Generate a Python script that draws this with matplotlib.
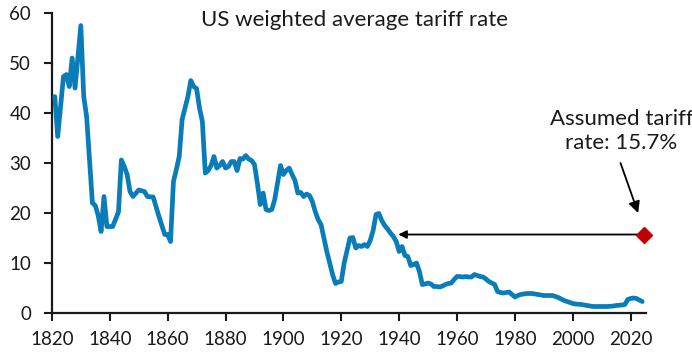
import matplotlib
matplotlib.use("Agg")
import matplotlib.pyplot as plt

plt.rcParams['font.family'] = ['Lato', 'DejaVu Sans']

years = [1821, 1822, 1824, 1825, 1826, 1827, 1828, 1830, 1831, 1832, 1834, 1835, 1836,
         1837, 1838, 1839, 1841, 1843, 1844, 1845, 1846, 1847, 1848, 1850, 1852, 1853,
         1855, 1857, 1859, 1860, 1861, 1862, 1863, 1864, 1865, 1867, 1868, 1869, 1870,
         1871, 1872, 1873, 1874, 1875, 1876, 1877, 1878, 1879, 1880, 1881, 1882, 1883,
         1884, 1885, 1886, 1887, 1888, 1889, 1890, 1891, 1892, 1893, 1894, 1895, 1896,
         1897, 1899, 1900, 1901, 1902, 1903, 1904, 1905, 1906, 1907, 1908, 1909, 1910,
         1911, 1912, 1913, 1914, 1915, 1916, 1917, 1918, 1919, 1920, 1921, 1922, 1923,
         1924, 1925, 1926, 1927, 1928, 1929, 1930, 1931, 1932, 1933, 1934, 1935, 1936,
         1937, 1938, 1939, 1940, 1941, 1942, 1943, 1944, 1945, 1946, 1947, 1948, 1949,
         1950, 1951, 1952, 1953, 1954, 1955, 1956, 1957, 1958, 1959, 1960, 1961, 1962,
         1963, 1964, 1965, 1966, 1967, 1968, 1969, 1970, 1971, 1972, 1973, 1974, 1975,
         1976, 1977, 1978, 1979, 1980, 1981, 1982, 1983, 1984, 1985, 1986, 1987, 1988,
         1989, 1990, 1991, 1992, 1993, 1994, 1995, 1996, 1997, 1998, 1999, 2000, 2001,
         2002, 2003, 2004, 2005, 2006, 2007, 2008, 2009, 2010, 2011, 2012, 2013, 2014,
         2015, 2016, 2017, 2018, 2019, 2020, 2021, 2022, 2023, 2024]
rates = [43.3, 35.3, 47.3, 47.7, 45.3, 51.0, 45.0, 57.5, 43.3, 39.3, 22.0, 21.5, 19.5,
         16.3, 23.3, 17.3, 17.3, 20.2, 30.6, 29.3, 27.7, 24.3, 23.3, 24.6, 24.3, 23.3,
         23.2, 19.3, 15.7, 15.7, 14.3, 26.3, 28.7, 31.3, 38.7, 43.3, 46.5, 45.3, 44.9,
         41.0, 38.3, 28.0, 28.5, 29.5, 31.3, 29.0, 29.5, 30.3, 29.0, 29.3, 30.3, 30.3,
         28.5, 30.9, 30.8, 31.5, 30.8, 30.5, 29.7, 26.0, 21.7, 24.0, 20.7, 20.5, 20.7,
         22.7, 29.5, 27.7, 28.5, 29.0, 27.7, 26.5, 24.0, 24.1, 23.3, 23.8, 23.5, 22.3,
         20.3, 18.7, 17.7, 15.0, 12.3, 10.0, 7.7, 5.9, 6.2, 6.3, 10.0, 12.5, 15.0,
         15.1, 13.0, 13.5, 13.3, 13.7, 13.3, 14.5, 16.5, 19.7, 19.9, 18.5, 17.5, 16.8,
         16.0, 15.3, 14.3, 12.3, 13.3, 11.5, 11.3, 9.5, 9.7, 10.0, 8.3, 5.7, 5.8,
         6.0, 5.8, 5.3, 5.3, 5.2, 5.4, 5.7, 5.9, 6.0, 6.7, 7.3, 7.3, 7.2,
         7.3, 7.2, 7.2, 7.7, 7.5, 7.3, 7.2, 6.8, 6.3, 6.0, 5.7, 4.3, 4.1,
         4.0, 4.1, 4.2, 3.7, 3.2, 3.5, 3.7, 3.8, 3.9, 3.9, 3.9, 3.8, 3.7,
         3.6, 3.5, 3.5, 3.5, 3.5, 3.3, 3.1, 2.8, 2.5, 2.3, 2.1, 1.9, 1.8,
         1.75, 1.7, 1.6, 1.5, 1.4, 1.3, 1.3, 1.3, 1.3, 1.3, 1.3, 1.35, 1.4,
         1.5, 1.55, 1.6, 1.7, 2.7, 2.9, 3.0, 2.9, 2.6, 2.3]

assumed_year = 2024.5
assumed_rate = 15.7
arrow_target_year = 1939.7
xticks = list(range(1820, 2021, 20))
yticks = list(range(0, 61, 10))
title = "US weighted average tariff rate"
note = "Assumed tariff\nrate: 15.7%"

fig = plt.figure(figsize=(6.92, 3.53), dpi=100)
ax = fig.add_axes([0.075, 0.1133, 0.8585, 0.8497])

ax.plot(years, rates, color='#0A7DB8', lw=3.4, solid_joinstyle='round',
        solid_capstyle='round', zorder=3)
ax.plot([assumed_year], [assumed_rate], marker='D', color='#C00000', markersize=8,
        linestyle='none', clip_on=False, zorder=5)

ax.annotate('', xy=(arrow_target_year, assumed_rate), xytext=(assumed_year - 1.5, assumed_rate),
            arrowprops=dict(arrowstyle='-|>', color='black', lw=1.3,
                            mutation_scale=12, shrinkA=0, shrinkB=0))
ax.annotate('', xy=(2022.6, 20.0), xytext=(2016.5, 30.0),
            arrowprops=dict(arrowstyle='-|>', color='black', lw=1.3,
                            mutation_scale=17, shrinkA=0, shrinkB=0))
ax.text(2016.8, 36.4, note, ha='center', va='center', fontsize=16,
        color='#1a1a1a', linespacing=1.2)

ax.set_xlim(1820, 2025.3)
ax.set_ylim(0, 60)
ax.set_xticks(xticks)
ax.set_yticks(yticks)
ax.tick_params(axis='both', direction='out', length=6, width=1.5, labelsize=13.5,
               colors='#1a1a1a')
ax.tick_params(axis='x', pad=7)
ax.tick_params(axis='y', pad=9)
for s in ['top', 'right']:
    ax.spines[s].set_visible(False)
for s in ['left', 'bottom']:
    ax.spines[s].set_linewidth(1.6)
    ax.spines[s].set_color('#1a1a1a')

fig.text(354.5 / 692, 1 - 20 / 353, title, ha='center', va='center', fontsize=16,
         color='#1a1a1a')

fig.savefig('out.png', dpi=100)
